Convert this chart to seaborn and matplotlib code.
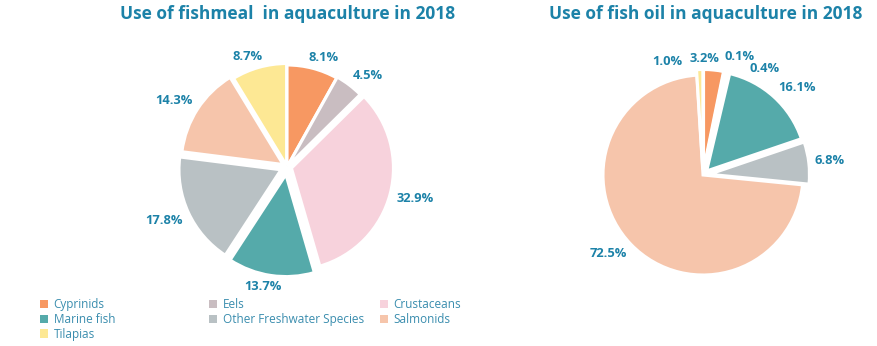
import matplotlib
matplotlib.use("Agg")
import matplotlib.pyplot as plt
from matplotlib.patches import Patch
import numpy as np
import seaborn as sns

# Share of aquaculture feed use by species group, 2018 (percent)
species = ["Cyprinids", "Eels", "Crustaceans", "Marine fish",
           "Other Freshwater Species", "Salmonids", "Tilapias"]
fishmeal_share = [8.1, 4.5, 32.9, 13.7, 17.8, 14.3, 8.7]
fish_oil_share = [3.2, 0.1, 0.4, 16.1, 6.8, 72.5, 1.0]
fishmeal_labels = ["8.1%", "4.5%", "32.9%", "13.7%", "17.8%", "14.3%", "8.7%"]
fish_oil_labels = ["3.2%", "0.1%", "0.4%", "16.1%", "6.8%", "72.5%", "1.0%"]

colors = ["#F79862", "#C9BDC1", "#F7D2DC", "#55AAAA",
          "#B9C1C4", "#F6C5AB", "#FDE894"]
fishmeal_explode = [0.0, 0.01, 0.045, 0.075, 0.065, 0.045, 0.015]
fish_oil_explode = [0.055, 0.055, 0.055, 0.055, 0.065, 0.0, 0.055]
# clockwise angular nudges (degrees) and extra radial room that keep the
# tiny slices' labels apart
fish_oil_label_shift = [-5, 2, 12, 0, 0, 0, -12]
fish_oil_label_lift = [0.0, 0.05, 0.0, 0.0, 0.0, 0.0, 0.0]
fishmeal_label_shift = [0, 0, 0, 0, 0, 0, 0]
fishmeal_label_lift = [0, 0, 0, 0, 0, 0, 0]

TITLE_COLOR = "#1C82A8"
LABEL_COLOR = "#1C82A8"
LEGEND_COLOR = "#3A8DAE"

sns.set_theme(style="white")
plt.rcParams["font.family"] = ["Open Sans", "DejaVu Sans"]

fig = plt.figure(figsize=(8.77, 3.46), dpi=100)
W, H = 877, 346


def pie_axes(cx, cy, r, half=1.5):
    size = 2 * half * r
    ax = fig.add_axes([(cx - size / 2) / W, (H - cy - size / 2) / H, size / W, size / H])
    return ax


def draw_pie(ax, values, labels, explode, shift, lift):
    wedges, _ = ax.pie(values, explode=explode, colors=colors, startangle=90,
                       counterclock=False, radius=1.0,
                       wedgeprops=dict(edgecolor="white", linewidth=2.2))
    ax.set_xlim(-1.5, 1.5)
    ax.set_ylim(-1.5, 1.5)
    ax.set_aspect("equal")
    ax.axis("off")
    fig.canvas.draw()
    renderer = fig.canvas.get_renderer()
    px_per_unit = ax.transData.transform((1, 0))[0] - ax.transData.transform((0, 0))[0]
    f = lambda v: float(np.clip(2.5 * v, -1, 1))
    for w, lab, e, s, extra in zip(wedges, labels, explode, shift, lift):
        mid = np.deg2rad((w.theta1 + w.theta2) / 2 - s)
        d = 1.0 + e + 0.06 + extra
        px, py = d * np.cos(mid), d * np.sin(mid)
        t = ax.text(px, py, lab, ha="center", va="center", color=LABEL_COLOR,
                    fontsize=9.3, fontweight="bold")
        bb = t.get_window_extent(renderer)
        hw = bb.width / 2 / px_per_unit
        hh = bb.height / 2 / px_per_unit * 0.75
        t.set_position((px + hw * f(np.cos(mid)), py + hh * f(np.sin(mid))))


ax1 = pie_axes(287, 167, 102)
draw_pie(ax1, fishmeal_share, fishmeal_labels, fishmeal_explode,
         fishmeal_label_shift, fishmeal_label_lift)
ax2 = pie_axes(703, 175, 100)
draw_pie(ax2, fish_oil_share, fish_oil_labels, fish_oil_explode,
         fish_oil_label_shift, fish_oil_label_lift)

fig.text(288 / W, 1 - 14 / H, "Use of fishmeal  in aquaculture in 2018",
         ha="center", va="center", color=TITLE_COLOR, fontsize=12.5, fontweight="bold")
fig.text(706 / W, 1 - 14 / H, "Use of fish oil in aquaculture in 2018",
         ha="center", va="center", color=TITLE_COLOR, fontsize=12.5, fontweight="bold")

# legend laid out in three fixed-width columns, filled row by row
handles = [Patch(facecolor=c, edgecolor="none", label=s) for s, c in zip(species, colors)]
columns = [(40, [0, 3, 6]), (209, [1, 4]), (380, [2, 5])]
for x, idx in columns:
    leg = fig.legend(handles=[handles[i] for i in idx], loc="upper left",
                     bbox_to_anchor=(x / W, 1 - 298 / H), frameon=False,
                     borderpad=0, borderaxespad=0, handlelength=0.7, handleheight=0.7,
                     handletextpad=0.45, labelspacing=0.15, fontsize=8.5)
    for txt in leg.get_texts():
        txt.set_color(LEGEND_COLOR)

fig.savefig("out.png", dpi=100, facecolor="white")
